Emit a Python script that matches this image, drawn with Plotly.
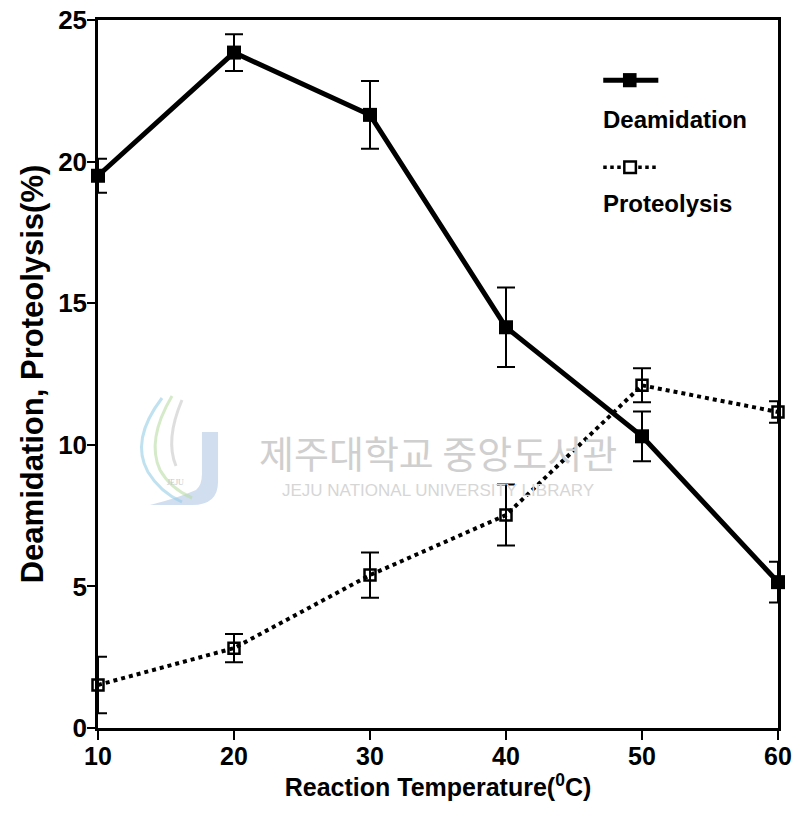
import plotly.graph_objects as go

temps = [10, 20, 30, 40, 50, 60]
deamidation = [19.5, 23.85, 21.65, 14.15, 10.3, 5.15]
deamidation_err = [0.6, 0.65, 1.2, 1.4, 0.88, 0.72]
proteolysis = [1.52, 2.82, 5.4, 7.52, 12.1, 11.16]
proteolysis_err = [1.0, 0.5, 0.8, 1.08, 0.6, 0.38]
y_ticks = [0, 5, 10, 15, 20, 25]
x_ticks = [10, 20, 30, 40, 50, 60]

FONT = "Liberation Sans, Arial, sans-serif"

# page-pixel -> paper coordinate helpers (plot area spans 98..778 x, 20..728 y)
def px(x):
    return (x - 98) / 680.0

def py(y):
    return (728 - y) / 708.0

def path(cmds):
    out = []
    for c in cmds:
        if isinstance(c, str):
            out.append(c)
        else:
            out.append(f"{px(c[0]):.4f},{py(c[1]):.4f}")
    return " ".join(out)

fig = go.Figure()

# faint library watermark logo (decorative background)
fig.add_shape(type="path", xref="paper", yref="paper", layer="below",
              path=path(["M", (202, 432), "L", (218, 432), "L", (218, 482), "Q", (218, 505), (192, 505),
                         "L", (150, 505), "Q", (178, 498), (196, 490), "Q", (202, 485), (202, 474), "Z"]),
              fillcolor="rgba(170,195,225,0.55)", line=dict(width=0))
for cmds, col in [
    (["M", (162, 398), "Q", (130, 440), (148, 472), "Q", (160, 492), (182, 502)], "rgba(150,205,230,0.6)"),
    (["M", (172, 396), "Q", (146, 440), (160, 470), "Q", (170, 488), (192, 498)], "rgba(185,220,165,0.6)"),
    (["M", (182, 400), "Q", (165, 440), (176, 466)], "rgba(200,200,200,0.6)"),
]:
    fig.add_shape(type="path", xref="paper", yref="paper", layer="below", path=path(cmds),
                  line=dict(color=col, width=3))
fig.add_annotation(xref="paper", yref="paper", x=px(165), y=py(482), text="JEJU", showarrow=False,
                   font=dict(family="Liberation Serif", size=8, color="#c8c8c8"))

fig.add_trace(go.Scatter(
    x=temps, y=proteolysis, mode="lines+markers", name="Proteolysis",
    line=dict(color="black", width=4, dash="dot"),
    marker=dict(symbol="square-open", size=11, color="black", line=dict(width=2.5, color="black")),
    error_y=dict(type="data", array=proteolysis_err, color="black", thickness=2, width=9),
    cliponaxis=False, showlegend=False))
fig.add_trace(go.Scatter(
    x=temps, y=deamidation, mode="lines+markers", name="Deamidation",
    line=dict(color="black", width=5),
    marker=dict(symbol="square", size=14, color="black"),
    error_y=dict(type="data", array=deamidation_err, color="black", thickness=2, width=9),
    cliponaxis=False, showlegend=False))

# custom legend (sample above label)
fig.add_shape(type="line", xref="paper", yref="paper", x0=0.743, x1=0.824, y0=0.915, y1=0.915,
              line=dict(color="black", width=5))
fig.add_shape(type="rect", xref="paper", yref="paper", x0=0.772, x1=0.792, y0=0.905, y1=0.925,
              fillcolor="black", line=dict(width=0))
fig.add_shape(type="line", xref="paper", yref="paper", x0=0.743, x1=0.823, y0=0.792, y1=0.792,
              line=dict(color="black", width=3.5, dash="dot"))
fig.add_shape(type="rect", xref="paper", yref="paper", x0=0.774, x1=0.791, y0=0.784, y1=0.8,
              fillcolor="white", line=dict(width=2.5, color="black"))
fig.add_annotation(xref="paper", yref="paper", x=0.74, y=0.860, text="Deamidation", showarrow=False,
                   xanchor="left", yanchor="middle", font=dict(family=FONT, size=24, color="black", weight="bold"))
fig.add_annotation(xref="paper", yref="paper", x=0.74, y=0.7415, text="Proteolysis", showarrow=False,
                   xanchor="left", yanchor="middle", font=dict(family=FONT, size=24, color="black", weight="bold"))

# watermark text
fig.add_annotation(xref="paper", yref="paper", x=0.5, y=0.39, text="제주대학교 중앙도서관", showarrow=False,
                   xanchor="center", yanchor="middle",
                   font=dict(family="Noto Sans CJK KR", size=38, color="#cfcfcf"))
fig.add_annotation(xref="paper", yref="paper", x=0.5, y=0.335, text="JEJU NATIONAL UNIVERSITY LIBRARY", showarrow=False,
                   xanchor="center", yanchor="middle",
                   font=dict(family=FONT, size=17, color="#d6d6d6"))

fig.update_layout(
    width=796, height=814,
    margin=dict(l=98, r=18, t=20, b=86, autoexpand=False),
    paper_bgcolor="white", plot_bgcolor="white",
    font=dict(family=FONT, color="black"),
)
fig.update_xaxes(
    range=[10, 60], tickvals=x_ticks, ticktext=[str(v) for v in x_ticks],
    showline=True, linecolor="black", linewidth=2.5, mirror=True,
    ticks="outside", ticklen=9, tickwidth=2, tickcolor="black",
    showgrid=False, zeroline=False, automargin=False,
    ticklabelstandoff=-5,
    tickfont=dict(family=FONT, size=25, weight="bold"),
    title=dict(text="Reaction Temperature(<sup>0</sup>C)", standoff=0,
               font=dict(family=FONT, size=25, weight="bold")))
fig.update_yaxes(
    range=[0, 25], tickvals=y_ticks, ticktext=[str(v) for v in y_ticks],
    showline=True, linecolor="black", linewidth=2.5, mirror=True,
    ticks="outside", ticklen=8, tickwidth=2, tickcolor="black",
    showgrid=False, zeroline=False, automargin=False,
    ticklabelstandoff=-5,
    tickfont=dict(family=FONT, size=26, weight="bold"),
    title=dict(text="Deamidation, Proteolysis(%)", standoff=6,
               font=dict(family=FONT, size=31, weight="bold")))

fig.write_html("out.html", config={"displayModeBar": False},
               post_script="document.body.style.margin='0';document.body.style.overflow='hidden';")
